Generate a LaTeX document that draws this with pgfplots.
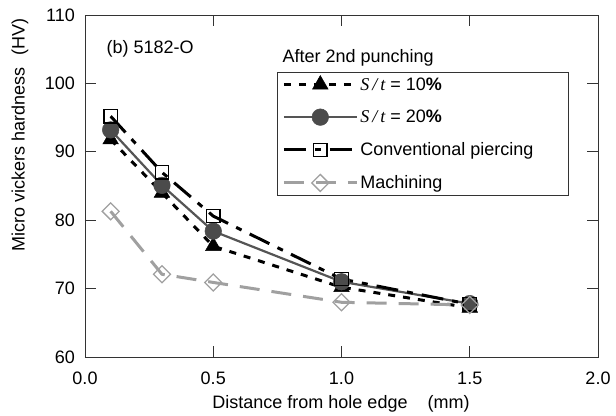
\documentclass[border=0pt]{standalone}
\usepackage{fontspec}
\setmainfont{Liberation Sans}
\newfontfamily\serifit{Liberation Serif}[ItalicFont={Liberation Serif Italic}]
\usepackage{pgfplots}
\pgfplotsset{compat=1.18}
\definecolor{midgray}{RGB}{85,85,85}
\definecolor{circfill}{RGB}{75,75,75}
\definecolor{lightgray2}{RGB}{160,160,160}
\begin{document}
\begin{tikzpicture}[font=\fontsize{18bp}{21.6bp}\selectfont]
\useasboundingbox (-85bp,-59bp) rectangle (531bp,357bp);
\begin{axis}[
  scale only axis,
  width=513bp, height=342bp,
  xmin=0, xmax=2, ymin=60, ymax=110,
  xtick={0,0.5,1,1.5,2},
  ytick={60,70,80,90,100,110},
  xticklabels={0.0,0.5,1.0,1.5,2.0},
  /pgf/number format/assume math mode=true,
  tick align=inside,
  major tick length=11bp,
  minor tick num=0,
  axis line style={draw=black!80, line width=0.9bp},
  every tick/.style={draw=black!80, line width=0.9bp},
  xticklabel style={anchor=base, inner sep=0pt, yshift=-27.5bp},
  yticklabel style={anchor=east, inner sep=0pt, xshift=-10bp},
  legend style={draw=black!80, line width=0.9bp, fill=white,
    at={(rel axis cs:0.374,0.833)}, anchor=north west,
    inner xsep=5bp, inner ysep=3bp, row sep=14.5bp,
    cells={anchor=west}, font=\fontsize{18bp}{21.6bp}\selectfont},
  legend image code/.code={\draw[mark repeat=2,mark phase=2,#1] plot coordinates {(0bp,0bp) (36.5bp,0bp) (73bp,0bp)};},
  clip=false,
]
\addplot[black, line width=3bp, dash pattern=on 7bp off 8bp,
  mark=triangle*, mark size=9bp, mark options={solid, fill=black, line width=0.5bp}]
  coordinates {(0.1,91.8) (0.3,84.0) (0.5,76.2) (1.0,70.2) (1.5,67.2)};
\addlegendentry{{\serifit\itshape S\,/\,t} = 10\textbf{\%}}
\addplot[midgray, line width=2.2bp,
  mark=*, mark size=8.3bp, mark options={solid, fill=circfill, draw=circfill, line width=0.5bp}]
  coordinates {(0.1,93.2) (0.3,85.1) (0.5,78.4) (1.0,71.0) (1.5,67.8)};
\addlegendentry{{\serifit\itshape S\,/\,t} = 20\textbf{\%}}
\addplot[black, line width=3bp, dash pattern=on 22bp off 9bp on 6bp off 9bp,
  mark=square, mark size=6.7bp, mark options={solid, draw=black, fill=none, line width=1.3bp}]
  coordinates {(0.1,95.2) (0.3,87.0) (0.5,80.6) (1.0,71.4) (1.5,67.7)};
\addlegendentry{Conventional piercing\hspace*{28bp}}
\addplot[lightgray2, line width=3bp, dash pattern=on 20bp off 12bp,
  mark=square, mark size=6bp, mark options={solid, draw=lightgray2, fill=none, line width=1.3bp, rotate=45}]
  coordinates {(0.1,81.3) (0.3,72.1) (0.5,70.9) (1.0,68.0) (1.5,67.6)};
\addlegendentry{Machining}
\end{axis}
\node[anchor=base west] at (18bp,303.7bp) {(b) 5182-O};
\node[anchor=base west] at (194bp,294bp) {After 2nd punching};
\node[anchor=base] at (256bp,-51bp) {Distance from hole edge\hspace{20bp}(mm)};
\node[rotate=90] at (-65bp,222bp) {Micro vickers hardness\hspace{12bp}(HV)};
\end{tikzpicture}
\end{document}
